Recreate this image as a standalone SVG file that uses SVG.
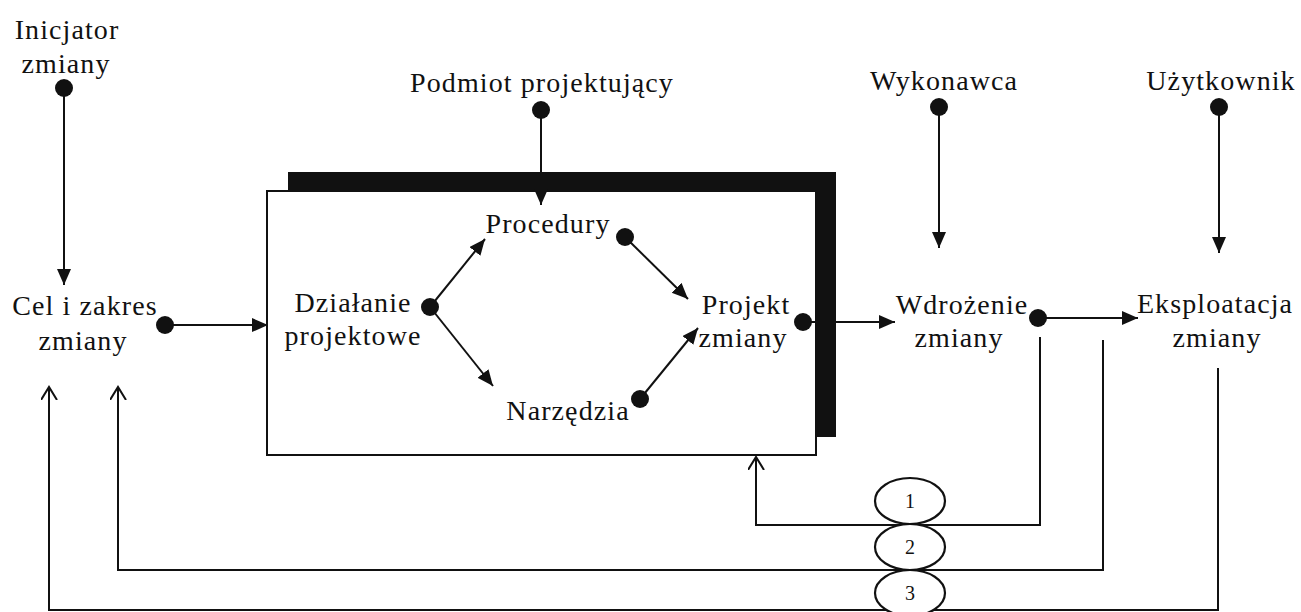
<svg xmlns="http://www.w3.org/2000/svg" width="1301" height="612" viewBox="0 0 1301 612">
<style>
text{font-family:"Liberation Serif","Times New Roman",serif;font-size:28px;fill:#111;letter-spacing:1.1px;text-anchor:middle}
.num{font-size:20px;letter-spacing:0}
.ln{stroke:#111;stroke-width:2;fill:none}
.dot{fill:#111}
.ell{fill:#fff;stroke:#111;stroke-width:2.2}
</style>
<defs>
<marker id="fa" markerUnits="userSpaceOnUse" markerWidth="18" markerHeight="16" refX="16" refY="7" orient="auto"><path d="M0,0 L16,7 L0,14 z" fill="#111"/></marker>
<marker id="oa" markerUnits="userSpaceOnUse" markerWidth="16" markerHeight="20" refX="13" refY="8" orient="auto"><path d="M0,0 L13,8 L0,16" fill="none" stroke="#111" stroke-width="2"/></marker>
</defs>
<g id="connectors">
<line class="ln" x1="64" y1="88" x2="64" y2="285" marker-end="url(#fa)"/>
<line class="ln" x1="165" y1="325" x2="268" y2="325" marker-end="url(#fa)"/>
<line class="ln" x1="541" y1="110" x2="541" y2="205" marker-end="url(#fa)"/>
<line class="ln" x1="939" y1="107" x2="939" y2="248" marker-end="url(#fa)"/>
<line class="ln" x1="1219" y1="107" x2="1219" y2="253" marker-end="url(#fa)"/>
<line class="ln" x1="1038" y1="318" x2="1138" y2="318" marker-end="url(#fa)"/>
<polyline class="ln" points="1040,337 1040,525 756,525 756,457" marker-end="url(#oa)"/>
<polyline class="ln" points="1103,340 1103,570 118,570 118,387" marker-end="url(#oa)"/>
<polyline class="ln" points="1218,368 1218,610 49,610 49,387" marker-end="url(#oa)"/>
</g>
<g id="project-box">
<rect x="288" y="172" width="548" height="265" fill="#111"/>
<rect x="267" y="191" width="549" height="264" fill="#fff" stroke="#111" stroke-width="2"/>
<line class="ln" x1="541" y1="191" x2="541" y2="205" marker-end="url(#fa)"/>
<line class="ln" x1="430" y1="307" x2="485" y2="239" marker-end="url(#fa)"/>
<line class="ln" x1="430" y1="307" x2="493" y2="386" marker-end="url(#fa)"/>
<line class="ln" x1="625" y1="237" x2="688" y2="299" marker-end="url(#fa)"/>
<line class="ln" x1="640" y1="399" x2="698" y2="328" marker-end="url(#fa)"/>
<line class="ln" x1="803" y1="322" x2="895" y2="322" marker-end="url(#fa)"/>
</g>
<g id="inicjator"><text x="67" y="39">Inicjator</text><text x="66" y="73">zmiany</text><circle class="dot" cx="64" cy="88" r="9"/></g>
<g id="podmiot"><text x="542" y="92">Podmiot projektujący</text><circle class="dot" cx="541" cy="110" r="9"/></g>
<g id="wykonawca"><text x="944" y="90">Wykonawca</text><circle class="dot" cx="939" cy="107" r="9"/></g>
<g id="uzytkownik"><text x="1221" y="90">Użytkownik</text><circle class="dot" cx="1219" cy="107" r="9"/></g>
<g id="cel"><text x="85" y="315">Cel i zakres</text><text x="83" y="350">zmiany</text><circle class="dot" cx="165" cy="325" r="9"/></g>
<g id="dzialanie"><text x="353" y="312">Działanie</text><text x="353" y="345">projektowe</text><circle class="dot" cx="430" cy="307" r="9"/></g>
<g id="procedury"><text x="548" y="233">Procedury</text><circle class="dot" cx="625" cy="237" r="9"/></g>
<g id="narzedzia"><text x="568" y="420">Narzędzia</text><circle class="dot" cx="640" cy="399" r="9"/></g>
<g id="projekt"><text x="746" y="314">Projekt</text><text x="743" y="347">zmiany</text><circle class="dot" cx="803" cy="322" r="9"/></g>
<g id="wdrozenie"><text x="962" y="314">Wdrożenie</text><text x="959" y="347">zmiany</text><circle class="dot" cx="1038" cy="318" r="9"/></g>
<g id="eksploatacja"><text x="1215" y="313">Eksploatacja</text><text x="1217" y="347">zmiany</text></g>
<g id="loop1"><ellipse class="ell" cx="910" cy="501" rx="35" ry="23"/><text class="num" x="910" y="508">1</text></g>
<g id="loop2"><ellipse class="ell" cx="910" cy="547" rx="35" ry="23"/><text class="num" x="910" y="554">2</text></g>
<g id="loop3"><ellipse class="ell" cx="910" cy="593" rx="35" ry="23"/><text class="num" x="910" y="600">3</text></g>
</svg>
